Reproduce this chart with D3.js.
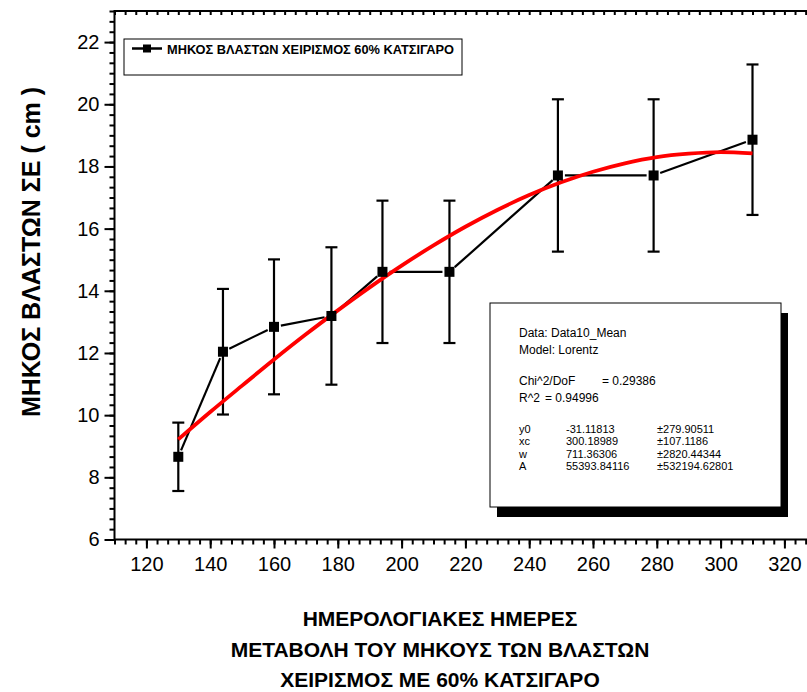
<!DOCTYPE html>
<html>
<head>
<meta charset="utf-8">
<script src="https://cdn.jsdelivr.net/npm/d3@7"></script>
<style>
  body { margin: 0; background: #fff; }
  svg { display: block; font-family: "Liberation Sans", Arial, sans-serif; }
</style>
</head>
<body>
<svg id="chart"></svg>
<script>
// measured data (day of year, mean shoot length, error)
const days = [130, 144, 160, 178, 194, 215, 249, 279, 310];
const lengths = [8.66, 12.04, 12.84, 13.19, 14.61, 14.61, 17.71, 17.71, 18.86];
const errors = [1.10, 2.02, 2.17, 2.21, 2.29, 2.29, 2.45, 2.45, 2.42];

// fitted curve
const fitDays = [130, 140, 150, 160, 170, 180, 190, 200, 210, 220, 230, 240, 250, 260, 270, 280, 290, 300, 310];
const fitValues = [9.22, 10.10, 10.95, 11.79, 12.60, 13.37, 14.11, 14.81, 15.46, 16.06, 16.60, 17.08, 17.49, 17.83, 18.10, 18.30, 18.41, 18.46, 18.42];

const xTicks = [120, 140, 160, 180, 200, 220, 240, 260, 280, 300, 320];
const yTicks = [6, 8, 10, 12, 14, 16, 18, 20, 22];

const legendLabel = "ΜΗΚΟΣ ΒΛΑΣΤΩΝ ΧΕΙΡΙΣΜΟΣ 60% ΚΑΤΣΙΓΑΡΟ";
const yTitle = "ΜΗΚΟΣ ΒΛΑΣΤΩΝ ΣΕ ( cm )";
const xTitle = ["ΗΜΕΡΟΛΟΓΙΑΚΕΣ ΗΜΕΡΕΣ", "ΜΕΤΑΒΟΛΗ ΤΟΥ ΜΗΚΟΥΣ ΤΩΝ ΒΛΑΣΤΩΝ", "ΧΕΙΡΙΣΜΟΣ ΜΕ 60% ΚΑΤΣΙΓΑΡΟ"];

const fitHeader = ["Data: Data10_Mean", "Model: Lorentz"];
const fitStats = [["Chi^2/DoF", "= 0.29386"], ["R^2", "=  0.94996"]];
const fitParams = [
  ["y0", "-31.11813", "±279.90511"],
  ["xc", "300.18989", "±107.1186"],
  ["w", "711.36306", "±2820.44344"],
  ["A", "55393.84116", "±532194.62801"]
];

const width = 807, height = 692;
const margin = { top: 11, left: 114.5, bottom: 152.5 };
const plotW = 701.8, plotH = height - margin.top - margin.bottom;

const svg = d3.select("#chart").attr("width", width).attr("height", height);
const g = svg.append("g").attr("transform", `translate(${margin.left}, ${margin.top})`);

const x = d3.scaleLinear().domain([110, 330]).range([0, plotW]);
const y = d3.scaleLinear().domain([6, 23]).range([plotH, 0]);

// frame
g.append("rect").attr("width", plotW).attr("height", plotH)
  .attr("fill", "none").attr("stroke", "#000").attr("stroke-width", 2);

const xMinor = d3.range(110, 330.01, 20 / 6);
const yMinor = d3.range(6, 23.01, 1 / 3);

function styleAxis(sel) {
  sel.select(".domain").remove();
  sel.selectAll(".tick line").attr("stroke", "#000").attr("stroke-width", 2);
}

// bottom
g.append("g").attr("transform", `translate(0, ${plotH})`)
  .call(d3.axisBottom(x).tickValues(xMinor).tickSize(5).tickFormat(""))
  .call(styleAxis);
g.append("g").attr("transform", `translate(0, ${plotH})`)
  .call(d3.axisBottom(x).tickValues(xTicks).tickSize(9).tickPadding(8))
  .call(styleAxis)
  .selectAll("text").attr("font-size", "20px").attr("fill", "#000")
  .attr("font-family", "'Liberation Sans', Arial, sans-serif");

// top (inward)
g.append("g")
  .call(d3.axisBottom(x).tickValues(xMinor).tickSize(4).tickFormat(""))
  .call(styleAxis);

// left
g.append("g")
  .call(d3.axisLeft(y).tickValues(yMinor).tickSize(5).tickFormat(""))
  .call(styleAxis);
g.append("g")
  .call(d3.axisLeft(y).tickValues(yTicks).tickSize(10).tickPadding(5))
  .call(styleAxis)
  .selectAll("text").attr("font-size", "20px").attr("fill", "#000")
  .attr("font-family", "'Liberation Sans', Arial, sans-serif");

// error bars
const points = days.map((d, i) => ({ x: d, y: lengths[i], e: errors[i] }));
const bars = g.append("g").attr("stroke", "#000").attr("stroke-width", 2.2);
points.forEach(p => {
  const cx = x(p.x), y1 = y(p.y + p.e), y2 = y(p.y - p.e);
  bars.append("line").attr("x1", cx).attr("x2", cx).attr("y1", y1).attr("y2", y2);
  bars.append("line").attr("x1", cx - 6).attr("x2", cx + 6).attr("y1", y1).attr("y2", y1);
  bars.append("line").attr("x1", cx - 6).attr("x2", cx + 6).attr("y1", y2).attr("y2", y2);
});

// connecting line with small gaps at the markers
const gap = 7;
const segs = g.append("g").attr("stroke", "#000").attr("stroke-width", 2.2);
for (let i = 0; i < points.length - 1; i++) {
  const x1 = x(points[i].x), y1 = y(points[i].y);
  const x2 = x(points[i + 1].x), y2 = y(points[i + 1].y);
  const len = Math.hypot(x2 - x1, y2 - y1);
  const ux = (x2 - x1) / len, uy = (y2 - y1) / len;
  segs.append("line")
    .attr("x1", x1 + ux * gap).attr("y1", y1 + uy * gap)
    .attr("x2", x2 - ux * gap).attr("y2", y2 - uy * gap);
}

// fitted curve
const fitLine = d3.line().x(d => x(d[0])).y(d => y(d[1])).curve(d3.curveMonotoneX);
g.append("path")
  .datum(fitDays.map((d, i) => [d, fitValues[i]]))
  .attr("d", fitLine)
  .attr("fill", "none").attr("stroke", "#ff0000").attr("stroke-width", 3.8);

// markers
g.selectAll(".marker").data(points).join("rect")
  .attr("class", "marker")
  .attr("x", d => x(d.x) - 5).attr("y", d => y(d.y) - 5)
  .attr("width", 10).attr("height", 10).attr("fill", "#000");

// legend
const legend = svg.append("g").attr("transform", "translate(124, 39)");
legend.append("rect").attr("width", 338).attr("height", 36)
  .attr("fill", "#fff").attr("stroke", "#000").attr("stroke-width", 1);
legend.append("line").attr("x1", 8).attr("x2", 38).attr("y1", 9.5).attr("y2", 9.5)
  .attr("stroke", "#000").attr("stroke-width", 2.5);
legend.append("rect").attr("x", 19).attr("y", 5.5).attr("width", 8).attr("height", 8).attr("fill", "#000");
legend.append("text").attr("x", 43).attr("y", 14.5)
  .attr("font-size", "12.8px").attr("font-weight", "bold").text(legendLabel);

// fit results box with shadow
const box = svg.append("g").attr("transform", "translate(490, 303)");
box.append("rect").attr("x", 7).attr("y", 10).attr("width", 291).attr("height", 204).attr("fill", "#000");
box.append("rect").attr("width", 291).attr("height", 204)
  .attr("fill", "#fff").attr("stroke", "#000").attr("stroke-width", 1);
const bt = box.append("g").attr("font-size", "12px").attr("fill", "#000");
fitHeader.forEach((t, i) => bt.append("text").attr("x", 29).attr("y", 34 + i * 16.5).text(t));
fitStats.forEach((r, i) => {
  bt.append("text").attr("x", 29).attr("y", 82 + i * 16.5).text(r[0]);
  bt.append("text").attr("x", i === 0 ? 112 : 55).attr("y", 82 + i * 16.5).text(r[1]);
});
fitParams.forEach((r, i) => {
  const yy = 130 + i * 12.4;
  const row = bt.append("g").attr("font-size", "11px");
  row.append("text").attr("x", 29).attr("y", yy).text(r[0]);
  row.append("text").attr("x", 76).attr("y", yy).text(r[1]);
  row.append("text").attr("x", 167).attr("y", yy).text(r[2]);
});

// axis titles
svg.append("text")
  .attr("transform", "translate(40, 252) rotate(-90)")
  .attr("text-anchor", "middle").attr("font-size", "25px").attr("font-weight", "bold")
  .text(yTitle);
xTitle.forEach((t, i) => {
  svg.append("text")
    .attr("x", 440).attr("y", 626 + i * 30.5)
    .attr("text-anchor", "middle").attr("font-size", "21px").attr("font-weight", "bold")
    .text(t);
});
</script>
</body>
</html>
